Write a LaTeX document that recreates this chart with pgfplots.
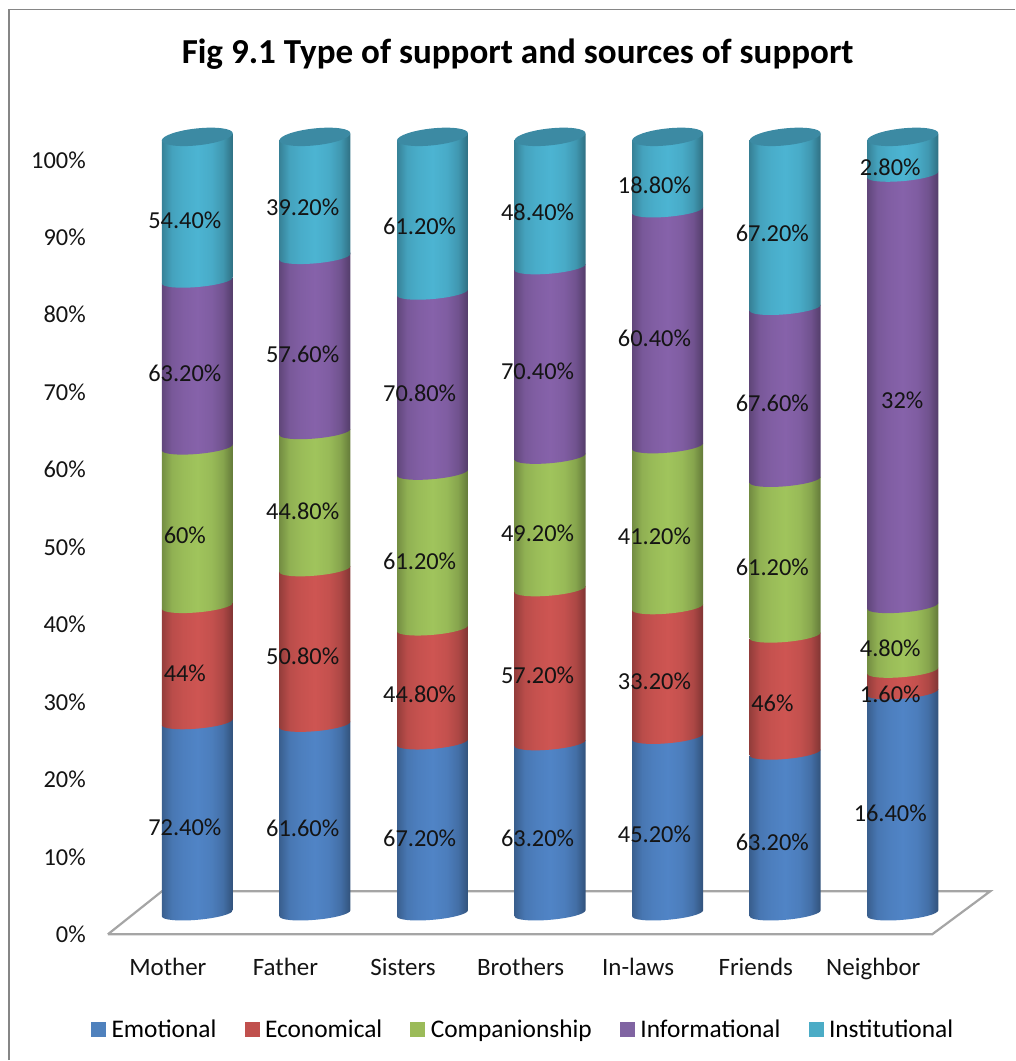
\documentclass[border=0pt]{standalone}
\usepackage{fontspec}
\setmainfont{Carlito}
\usepackage{pgfplots}
\usepackage{pgfplotstable}
\pgfplotsset{compat=1.18}

\definecolor{cE}{RGB}{80,132,198}
\definecolor{cN}{RGB}{206,85,82}
\definecolor{cC}{RGB}{160,196,92}
\definecolor{cI}{RGB}{134,98,170}
\definecolor{cS}{RGB}{76,180,210}
\definecolor{sE}{RGB}{79,129,189}
\definecolor{sN}{RGB}{192,80,77}
\definecolor{sC}{RGB}{155,187,89}
\definecolor{sI}{RGB}{128,100,162}
\definecolor{sS}{RGB}{75,172,198}
\definecolor{framegray}{RGB}{134,134,134}
\definecolor{floorgray}{RGB}{165,165,165}
\definecolor{capfill}{RGB}{60,138,163}

% cylinder side: dark rims, a light band just left of the middle
\newcommand{\cylshading}[2]{%
  \pgfdeclarehorizontalshading{#1}{100bp}{%
    color(0bp)=(#2!72!black);
    color(25bp)=(#2!72!black);
    color(32bp)=(#2!90!black);
    color(40bp)=(#2!96!black);
    color(50bp)=(#2);
    color(60bp)=(#2!95!black);
    color(68bp)=(#2!84!black);
    color(75bp)=(#2!62!black);
    color(100bp)=(#2!62!black)}}
\cylshading{shE}{cE}
\cylshading{shN}{cN}
\cylshading{shC}{cC}
\cylshading{shI}{cI}
\cylshading{shS}{cS}

\pgfdeclareplotmark{cylnothing}{}

% one stacked piece: the point is the middle of its upper edge, \segh its height;
% the tilted lower rim is half a sheared ellipse, written out as two curves
\newcommand{\cylpiece}[1]{%
  \path[draw=none,shading=#1]
    (-35.5pt,-\segh*7.75pt-3pt)
    .. controls (-35.5pt,-\segh*7.75pt-6.59pt)
            and (-19.6pt,-\segh*7.75pt-8.16pt)
    .. (0pt,-\segh*7.75pt-6.5pt)
    .. controls (19.6pt,-\segh*7.75pt-4.84pt)
            and (35.5pt,-\segh*7.75pt-0.59pt)
    .. (35.5pt,-\segh*7.75pt+3pt)
    -- (35.5pt,3pt) -- (-35.5pt,-3pt) -- cycle;}

% the closed end of a column, with the same tilt
\newcommand{\cylcap}{%
  \path[draw=none,fill=capfill]
    (-35.5pt,-3.55pt)
    .. controls (-35.5pt,-8.24pt) and (-19.6pt,-10.46pt) .. (0pt,-8.5pt)
    .. controls (19.6pt,-6.54pt) and (35.5pt,-1.14pt) .. (35.5pt,3.55pt)
    .. controls (35.5pt,8.24pt) and (19.6pt,10.46pt) .. (0pt,8.5pt)
    .. controls (-19.6pt,6.54pt) and (-35.5pt,1.14pt) .. (-35.5pt,-3.55pt)
    -- cycle;}

\pgfplotstableread{
i  E    N    C    I    S    T
0  72.4 44   60   63.2 54.4 294.0
1  61.6 50.8 44.8 57.6 39.2 253.6
2  67.2 44.8 61.2 70.8 61.2 305.2
3  63.2 57.2 49.2 70.4 48.4 288.4
4  45.2 33.2 41.2 60.4 18.8 198.8
5  63.2 46   61.2 67.6 67.2 305.2
6  16.4 1.6  4.8  32   2.8  57.6
}\supporttable

\pgfplotstableread{
px  py  v
185 827 72.40
185 673 44
185 535 60
185 373 63.20
185 219 54.40
303 828 61.60
303 656 50.80
303 511 44.80
303 354 57.60
303 206 39.20
420 838 67.20
420 694 44.80
420 561 61.20
420 393 70.80
420 225 61.20
538 838 63.20
538 675 57.20
538 533 49.20
538 371 70.40
538 211 48.40
655 834 45.20
655 681 33.20
655 536 41.20
655 338 60.40
655 184 18.80
773 842 63.20
773 703 46
773 567 61.20
773 403 67.60
773 232 67.20
891 813 16.40
891 694 1.60
891 648 4.80
903 400 32
891 166 2.80
}\labeltable

\pgfplotsset{
  cyl/.style n args={3}{
    scatter, only marks, mark=cylnothing,
    visualization depends on={100.26*#2 \as \segh},
    scatter/@pre marker code/.code={\cylpiece{#1}},
    scatter/@post marker code/.code={},
    legend image code/.code={\fill[#3] (0pt,-7pt) rectangle (14pt,7pt);},
  },
}

\begin{document}
\begin{tikzpicture}
\begin{axis}[
  width=1016pt, height=1061pt, scale only axis,
  xmin=-1.4277, xmax=7.2066, ymin=-16.387, ymax=120.516,
  clip=false,
  axis line style={draw=none},
  tick style={draw=none},
  major tick length=0pt,
  xtick={0,...,6},
  xticklabels={Mother,Father,Sisters,Brothers,In-laws,Friends,Neighbor},
  xticklabel style={anchor=base, inner sep=0pt, yshift=85pt, text=black!92,
                    font=\fontsize{25}{29}\selectfont},
  ytick={0,10,...,100},
  yticklabel={\pgfmathprintnumber{\tick}\%},
  yticklabel style={anchor=east, inner sep=0pt, xshift=86pt, yshift=-1pt, text=black!92,
                    font=\fontsize{24.4}{28}\selectfont},
  /pgf/number format/assume math mode=true,
  title={\fontsize{35.1}{41}\selectfont\bfseries Fig 9.1 Type of support and sources of support},
  title style={at={(0.5099,0.9435)}, anchor=center, inner sep=0pt},
  legend columns=-1,
  legend style={
    at={(0.0896,0.0292)}, anchor=west, draw=none, fill=none,
    inner sep=0pt, font=\fontsize{25.4}{29}\selectfont,
    nodes={inner sep=0pt},
    cells={anchor=west},
    /tikz/every odd column/.append style={column sep=6pt},
    /tikz/every even column/.append style={column sep=28.2pt},
  },
]

% floor under the columns
\addplot[forget plot, draw=floorgray, line width=2.2pt, fill=white, line join=miter]
  coordinates {(-0.51,-0.13) (-0.051,5.42) (6.994,5.42) (6.501,-0.13) (-0.51,-0.13)};

\addplot[cyl={shE}{\thisrow{E}/\thisrow{T}}{sE}]
  table[x expr=\thisrow{i}+0.2507,
        y expr=2.58+100.26*\thisrow{E}/\thisrow{T}] {\supporttable};
\addlegendentry{Emotional}
\addplot[cyl={shN}{\thisrow{N}/\thisrow{T}}{sN}]
  table[x expr=\thisrow{i}+0.2507,
        y expr=2.58+100.26*(\thisrow{E}+\thisrow{N})/\thisrow{T}] {\supporttable};
\addlegendentry{Economical}
\addplot[cyl={shC}{\thisrow{C}/\thisrow{T}}{sC}]
  table[x expr=\thisrow{i}+0.2507,
        y expr=2.58+100.26*(\thisrow{E}+\thisrow{N}+\thisrow{C})/\thisrow{T}] {\supporttable};
\addlegendentry{Companionship}
\addplot[cyl={shI}{\thisrow{I}/\thisrow{T}}{sI}]
  table[x expr=\thisrow{i}+0.2507,
        y expr=2.58+100.26*(\thisrow{E}+\thisrow{N}+\thisrow{C}+\thisrow{I})/\thisrow{T}] {\supporttable};
\addlegendentry{Informational}
\addplot[cyl={shS}{\thisrow{S}/\thisrow{T}}{sS},
         scatter/@pre marker code/.append code={\cylcap}]
  table[x expr=\thisrow{i}+0.2507,
        y expr=2.58+100.26] {\supporttable};
\addlegendentry{Institutional}

% value labels
\addplot[forget plot, draw=none, mark=none,
         point meta=explicit symbolic,
         nodes near coords={\pgfplotspointmeta\%},
         every node near coord/.style={anchor=center, inner sep=0pt, yshift=-1pt,
                                       font=\fontsize{24.4}{28}\selectfont, text=black!92}]
  table[x expr=(\thisrow{px}-168)/117.67, y expr=(934-\thisrow{py})/7.75, meta=v] {\labeltable};

% chart-area frame, open on the right and at the bottom
\draw[framegray, line width=1.6pt]
  (rel axis cs:0.0089,0) -- (rel axis cs:0.0089,0.991) -- (rel axis cs:1,0.991);
\end{axis}
\end{tikzpicture}
\end{document}
